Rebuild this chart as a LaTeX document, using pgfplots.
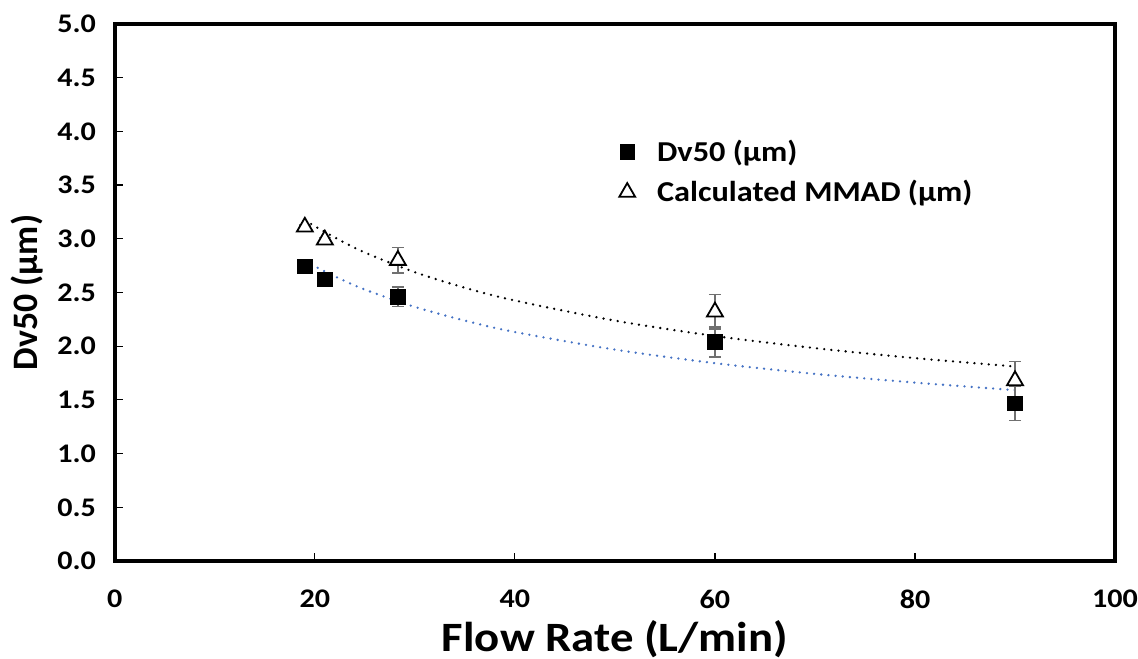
\documentclass[border=0pt]{standalone}
\usepackage{pgfplots}
\pgfplotsset{compat=1.18}
\usepackage{fontspec}
\setmainfont{Carlito}[FakeStretch=1.12]
\newfontfamily\ylabfont{Carlito}
\usetikzlibrary{calc}
\definecolor{trendblue}{HTML}{4472C4}
\definecolor{errgray}{HTML}{707070}
\begin{document}
\begin{tikzpicture}
\begin{axis}[
  scale only axis,
  width=501bp, height=269bp,
  xmin=0, xmax=100, ymin=0, ymax=5,
  xtick={0,20,...,100},
  ytick={0,0.5,...,5},
  axis line style={line width=2bp},
  tick style={black, line width=0.6bp},
  tick align=inside,
  major tick length=4bp,
  xtick pos=bottom, ytick pos=left,
  /pgf/number format/assume math mode=true,
  yticklabel style={/pgf/number format/fixed, /pgf/number format/fixed zerofill, /pgf/number format/precision=1, xshift=-6bp},
  ticklabel style={font=\fontsize{13.5}{16}\selectfont\bfseries},
  xticklabel style={yshift=-11bp},
  xlabel={\textbf{Flow Rate (L/min)}},
  ylabel={\ylabfont\bfseries Dv50 (µm)},
  xlabel style={font=\fontsize{21}{25}\selectfont, yshift=1bp},
  ylabel style={font=\fontsize{18}{22}\selectfont, yshift=0bp},
  legend style={draw=none, fill=none, at={(0.498,0.80)}, anchor=north west,
    font=\fontsize{14.5}{17}\selectfont\bfseries, row sep=4bp,
    /tikz/every odd column/.append style={column sep=9bp}},
  legend cell align=left,
  clip=false,
]
% trend lines
\addplot[forget plot, black, line width=1.3bp, line cap=round, dash pattern=on 0pt off 3.6bp, smooth]
  coordinates {(19,3.170) (22,3.012) (25,2.872) (30,2.689) (35,2.544) (40,2.425) (50,2.238) (60,2.095) (70,1.982) (80,1.889) (90,1.811)};
\addplot[forget plot, trendblue, line width=1.3bp, line cap=round, dash pattern=on 0pt off 3.6bp, smooth]
  coordinates {(19,2.790) (22,2.650) (25,2.527) (30,2.366) (35,2.238) (40,2.132) (50,1.968) (60,1.842) (70,1.742) (80,1.661) (90,1.591)};
% Dv50
\addplot[only marks, mark=square*, mark size=3.6bp, mark options={fill=black, draw=black},
  error bars/.cd, y dir=both, y explicit,
  error bar style={errgray, line width=0.7bp},
  error mark options={errgray, rotate=90, mark size=3bp, line width=0.7bp}]
  coordinates {(19,2.74) +- (0,0.03) (21,2.62) +- (0,0.03) (28.3,2.46) +- (0,0.09) (60,2.04) +- (0,0.14) (90,1.47) +- (0,0.16)};
\addlegendentry{Dv50 (µm)}
% MMAD
\addplot[only marks, mark=triangle*, mark size=4.6bp, mark options={fill=white, draw=black, line width=0.9bp},
  error bars/.cd, y dir=both, y explicit,
  error bar style={errgray, line width=0.7bp},
  error mark options={errgray, rotate=90, mark size=3bp, line width=0.7bp}]
  coordinates {(19,3.11) +- (0,0.02) (21,2.99) +- (0,0.02) (28.3,2.80) +- (0,0.12) (60,2.32) +- (0,0.16) (90,1.68) +- (0,0.18)};
\addlegendentry{Calculated MMAD (µm)}
\end{axis}
\pgfresetboundingbox
\path[use as bounding box] ($(current axis.south west)+(-57.5bp,-49bp)$) rectangle ($(current axis.north east)+(11.5bp,12bp)$);
\end{tikzpicture}
\end{document}
